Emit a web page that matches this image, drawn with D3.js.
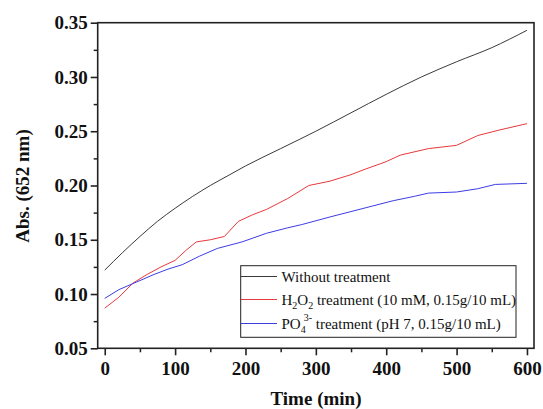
<!DOCTYPE html>
<html>
<head>
<meta charset="utf-8">
<script src="https://cdn.jsdelivr.net/npm/d3@7"></script>
<style>
  body { margin: 0; background: #fff; }
  .tick text { font-family: "Liberation Serif", "Times New Roman", serif; font-weight: bold; font-size: 19px; fill: #111; }
  .axis path, .axis line { stroke: #222; }
  .title { font-family: "Liberation Serif", "Times New Roman", serif; font-weight: bold; font-size: 19px; fill: #111; }
  .legend text { font-family: "Liberation Serif", "Times New Roman", serif; font-size: 15px; fill: #111; }
</style>
</head>
<body>
<svg id="chart" width="543" height="409"></svg>
<script>
// ----------------------- data -----------------------
var blackTime = [0, 25, 50, 75, 100, 125, 150, 175, 200, 250, 300, 350, 400, 450, 500, 550, 600];
var blackAbs  = [0.122, 0.138, 0.153, 0.167, 0.179, 0.190, 0.200, 0.209, 0.218, 0.234, 0.250, 0.267, 0.284, 0.300, 0.314, 0.327, 0.343];

var redTime = [0, 20, 40, 60, 80, 100, 115, 130, 150, 170, 190, 210, 230, 260, 290, 320, 350, 370, 400, 420, 460, 500, 530, 560, 600];
var redAbs  = [0.087, 0.097, 0.110, 0.118, 0.125, 0.131, 0.140, 0.148, 0.150, 0.153, 0.167, 0.173, 0.178, 0.188, 0.200, 0.204, 0.210, 0.215, 0.222, 0.228, 0.234, 0.237, 0.246, 0.251, 0.257];

var blueTime = [0, 20, 45, 70, 90, 110, 135, 160, 195, 230, 260, 280, 320, 350, 380, 410, 440, 460, 500, 530, 555, 600];
var blueAbs  = [0.096, 0.104, 0.111, 0.118, 0.123, 0.127, 0.135, 0.142, 0.148, 0.156, 0.161, 0.164, 0.171, 0.176, 0.181, 0.186, 0.190, 0.193, 0.194, 0.197, 0.201, 0.202];

var xTicks = [0, 100, 200, 300, 400, 500, 600];
var yTicks = [0.05, 0.10, 0.15, 0.20, 0.25, 0.30, 0.35];

var seriesList = [
  { name: "black", time: blackTime, abs: blackAbs, color: "#3a3a3a", smooth: true },
  { name: "red",   time: redTime,   abs: redAbs,   color: "#e8383c", smooth: false },
  { name: "blue",  time: blueTime,  abs: blueAbs,  color: "#3c3ce6", smooth: false }
];

// ----------------------- scales -----------------------
var plotLeft = 97.7, plotRight = 534, plotTop = 22.7, plotBottom = 348.3;
var x = d3.scaleLinear().domain([-10, 610]).range([plotLeft, plotRight]);
var y = d3.scaleLinear().domain([0.05, 0.35]).range([plotBottom, plotTop]);

var svg = d3.select("#chart");

// 外框
svg.append("rect")
  .attr("x", plotLeft).attr("y", plotTop)
  .attr("width", plotRight - plotLeft).attr("height", plotBottom - plotTop)
  .attr("fill", "none").attr("stroke", "#222").attr("stroke-width", 1.6);

// 次刻度
var xMinor = d3.range(50, 600, 100);
var yMinor = d3.range(0.075, 0.35, 0.05);
svg.append("g").attr("class", "axis")
  .attr("transform", "translate(0," + plotBottom + ")")
  .call(d3.axisBottom(x).tickValues(xMinor).tickSize(4).tickSizeOuter(0).tickFormat(""))
  .call(function(g) { g.select(".domain").remove(); })
  .selectAll("line").attr("stroke-width", 1.5);
svg.append("g").attr("class", "axis")
  .attr("transform", "translate(" + plotLeft + ",0)")
  .call(d3.axisLeft(y).tickValues(yMinor).tickSize(4).tickSizeOuter(0).tickFormat(""))
  .call(function(g) { g.select(".domain").remove(); })
  .selectAll("line").attr("stroke-width", 1.5);

// 主刻度
var xAxis = svg.append("g").attr("class", "axis")
  .attr("transform", "translate(0," + plotBottom + ")")
  .call(d3.axisBottom(x).tickValues(xTicks).tickSize(7).tickSizeOuter(0).tickPadding(6));
xAxis.select(".domain").remove();
xAxis.selectAll("line").attr("stroke-width", 1.6);

var yAxis = svg.append("g").attr("class", "axis")
  .attr("transform", "translate(" + plotLeft + ",0)")
  .call(d3.axisLeft(y).tickValues(yTicks).tickSize(7).tickSizeOuter(0).tickPadding(3).tickFormat(d3.format(".2f")));
yAxis.select(".domain").remove();
yAxis.selectAll("line").attr("stroke-width", 1.6);

// 曲线
seriesList.forEach(function(s) {
  var line = d3.line()
    .x(function(d) { return x(d[0]); })
    .y(function(d) { return y(d[1]); })
    .curve(s.smooth ? d3.curveMonotoneX : d3.curveLinear);
  svg.append("path")
    .datum(d3.zip(s.time, s.abs))
    .attr("fill", "none")
    .attr("stroke", s.color)
    .attr("stroke-width", 1)
    .attr("d", line);
});

// 坐标轴标题
svg.append("text").attr("class", "title")
  .attr("x", 316).attr("y", 405)
  .attr("text-anchor", "middle")
  .text("Time (min)");

svg.append("text").attr("class", "title")
  .attr("transform", "translate(29,186) rotate(-90)")
  .attr("text-anchor", "middle")
  .text("Abs. (652 nm)");

// ----------------------- 图例 -----------------------
var legend = svg.append("g").attr("class", "legend");
legend.append("rect")
  .attr("x", 240.7).attr("y", 265.7)
  .attr("width", 275.3).attr("height", 71.6)
  .attr("fill", "#fff").attr("stroke", "#222").attr("stroke-width", 1);

var rowY = [276.5, 299.5, 323.5];
seriesList.forEach(function(s, i) {
  legend.append("line")
    .attr("x1", 241).attr("x2", 277)
    .attr("y1", rowY[i]).attr("y2", rowY[i])
    .attr("stroke", s.color).attr("stroke-width", 1);
});

var t0 = legend.append("text").attr("x", 281.5).attr("y", rowY[0] + 5);
t0.text("Without treatment");

var t1 = legend.append("text").attr("x", 281.5).attr("y", rowY[1] + 5);
t1.append("tspan").text("H");
t1.append("tspan").attr("dy", 4).attr("font-size", "10px").text("2");
t1.append("tspan").attr("dy", -4).text("O");
t1.append("tspan").attr("dy", 4).attr("font-size", "10px").text("2");
t1.append("tspan").attr("dy", -4).text(" treatment (10 mM, 0.15g/10 mL)");

var t2 = legend.append("text").attr("x", 281.5).attr("y", rowY[2] + 5);
t2.append("tspan").text("PO");
t2.append("tspan").attr("dy", 4).attr("font-size", "10px").text("4");
t2.append("tspan").attr("dx", -2).attr("dy", -12).attr("font-size", "10px").text("3-");
t2.append("tspan").attr("dy", 8).text(" treatment (pH 7, 0.15g/10 mL)");
</script>
</body>
</html>
